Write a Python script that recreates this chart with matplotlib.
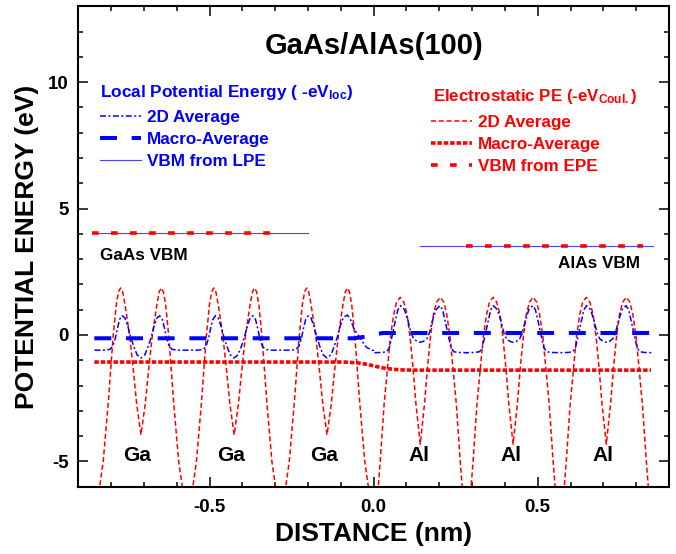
import numpy as np
import matplotlib.pyplot as plt
from matplotlib.ticker import MultipleLocator

plt.rcParams["font.family"] = ["Liberation Sans", "DejaVu Sans"]
plt.rcParams["font.weight"] = "bold"
plt.rcParams["mathtext.fontset"] = "custom"
plt.rcParams["mathtext.rm"] = "Liberation Sans:bold"
plt.rcParams["mathtext.it"] = "Liberation Sans:bold"
plt.rcParams["mathtext.bf"] = "Liberation Sans:bold"
plt.rcParams["axes.unicode_minus"] = False
plt.rcParams["lines.scale_dashes"] = False

# cation planes (nm); anions sit half way between them, interface at 0
ga_pos = [-0.709, -0.425, -0.142]
al_pos = [0.142, 0.425, 0.709]

# half-period profiles: distance from the cation plane (nm) -> energy (eV)
# electrostatic PE, 2D average
red_ga_d = [0.0, 0.013, 0.023, 0.034, 0.041, 0.049, 0.056, 0.062, 0.068, 0.075, 0.085, 0.100, 0.115, 0.127, 0.1417]
red_ga_v = [-3.95, -2.73, -1.41, -0.09, 0.55, 1.23, 1.72, 1.86, 1.72, 1.23, -0.09, -2.73, -5.0, -6.1, -9.0]
red_al_d = [0.0, 0.013, 0.022, 0.031, 0.040, 0.050, 0.061, 0.072, 0.081, 0.091, 0.110, 0.122, 0.1285, 0.1417]
red_al_v = [-4.32, -2.73, -1.30, -0.09, 0.80, 1.30, 1.49, 1.30, 0.80, -0.09, -2.73, -5.0, -6.1, -9.0]

# local PE, 2D average
blue_ga_d = [0.0, 0.012, 0.022, 0.031, 0.040, 0.049, 0.057, 0.065, 0.072, 0.078, 0.086, 0.095, 0.110, 0.1417]
blue_ga_v = [-0.91, -0.78, -0.45, -0.10, 0.35, 0.68, 0.76, 0.62, 0.25, -0.13, -0.45, -0.57, -0.60, -0.60]
blue_gi_d = [0.0, 0.012, 0.022, 0.031, 0.040, 0.050, 0.062, 0.072, 0.082, 0.099, 0.120, 0.1417]
blue_gi_v = [-0.91, -0.78, -0.45, -0.10, 0.35, 0.70, 0.79, 0.60, 0.25, -0.09, -0.49, -0.62]
blue_al_d = [0.0, 0.010, 0.020, 0.028, 0.038, 0.048, 0.060, 0.068, 0.076, 0.085, 0.094, 0.102, 0.115, 0.1417]
blue_al_v = [-0.29, -0.25, -0.15, 0.08, 0.60, 1.00, 1.16, 1.00, 0.55, 0.00, -0.50, -0.66, -0.69, -0.70]

# macroscopic averages
blue_macro_x = [-0.851, -0.06, -0.02, 0.01, 0.03, 0.851]
blue_macro_y = [-0.13, -0.13, -0.06, 0.04, 0.08, 0.08]
red_macro_x = [-0.851, -0.09, -0.05, -0.02, 0.01, 0.04, 0.08, 0.12, 0.845]
red_macro_y = [-1.07, -1.07, -1.10, -1.16, -1.25, -1.33, -1.38, -1.39, -1.39]

# valence band maxima
vbm_gaas, vbm_alas = 4.04, 3.53
lpe_gaas_x, epe_gaas_x = [-0.858, -0.201], [-0.858, -0.312]
lpe_alas_x, epe_alas_x = [0.141, 0.851], [0.280, 0.821]

ga_label_x = [-0.72, -0.435, -0.15]
al_label_x = [0.138, 0.419, 0.70]


def profile(centers, d_side, v_side, last=None):
    xs, ys = [], []
    for i, c in enumerate(centers):
        dr, vr = d_side, v_side
        if last is not None and i == len(centers) - 1:
            dr, vr = last
        xs += [c - t for t in d_side[::-1]] + [c + t for t in dr[1:]]
        ys += v_side[::-1] + vr[1:]
    return np.array(xs), np.array(ys)


red_x1, red_y1 = profile(ga_pos, red_ga_d, red_ga_v)
red_x2, red_y2 = profile(al_pos, red_al_d, red_al_v)
blue_x1, blue_y1 = profile(ga_pos, blue_ga_d, blue_ga_v, last=(blue_gi_d, blue_gi_v))
blue_x2, blue_y2 = profile(al_pos, blue_al_d, blue_al_v)
red_x = np.concatenate([red_x1, red_x2])
red_y = np.concatenate([red_y1, red_y2])
blue_x = np.concatenate([blue_x1, blue_x2])
blue_y = np.concatenate([blue_y1, blue_y2])

fig = plt.figure(figsize=(6.76, 5.54), dpi=100)
ax = fig.add_axes([0.1158, 0.1215, 0.8738, 0.8671])

blue = "#0000ff"
red = "#ff0000"

r2d, = ax.plot(red_x, red_y, color=red, lw=1.1, dashes=(3.6, 2.0))
b2d, = ax.plot(blue_x, blue_y, color=blue, lw=1.1, dashes=(4.3, 1.8, 1.4, 1.8))
bma, = ax.plot(blue_macro_x, blue_macro_y, color=blue, lw=2.9, dashes=(12.2, 10.6))
rma, = ax.plot(red_macro_x, red_macro_y, color=red, lw=2.6, dashes=(3.2, 1.4))

bvb, = ax.plot(lpe_gaas_x, [vbm_gaas] * 2, color="#4646ff", lw=0.8)
ax.plot(lpe_alas_x, [vbm_alas] * 2, color="#4646ff", lw=0.8)
rvb, = ax.plot(epe_gaas_x, [vbm_gaas] * 2, color=red, lw=2.6, dashes=(4.8, 8.9))
ax.plot(epe_alas_x, [vbm_alas] * 2, color=red, lw=2.6, dashes=(4.8, 8.9))

ax.text(0.0, 11.45, "GaAs/AlAs(100)", ha="center", va="center", fontsize=21, fontweight="bold")
ax.text(-0.833, 3.14, "GaAs VBM", ha="left", va="center", fontsize=12.3, fontweight="bold")
ax.text(0.813, 2.81, "AlAs VBM", ha="right", va="center", fontsize=12.3, fontweight="bold")
for x in ga_label_x:
    ax.text(x, -4.78, "Ga", ha="center", va="center", fontsize=15, fontweight="bold")
for x in al_label_x:
    ax.text(x, -4.78, "Al", ha="center", va="center", fontsize=15, fontweight="bold")

# legend headings
ax.text(-0.833, 9.43, "Local Potential Energy ( -eV$_{\\mathbf{loc}}$)", color=blue,
        ha="left", va="baseline", fontsize=12.4, fontweight="bold")
ax.text(0.181, 9.24, "Electrostatic PE (-eV$_{\\mathbf{Coul.}}$)", color=red,
        ha="left", va="baseline", fontsize=12.2, fontweight="bold")

leg_kw = dict(frameon=False, borderpad=0, borderaxespad=0, handlelength=2.4,
              handletextpad=0.35, labelspacing=0.4, fontsize=12.3, loc="upper left")
leg1 = ax.legend([b2d, bma, bvb], ["2D Average", "Macro-Average", "VBM from LPE"],
                 labelcolor=blue, bbox_to_anchor=(0.0367, 0.784), **leg_kw)
ax.add_artist(leg1)
leg2 = ax.legend([r2d, rma, rvb], ["2D Average", "Macro-Average", "VBM from EPE"],
                 labelcolor=red, bbox_to_anchor=(0.597, 0.774), **leg_kw)

ax.set_xlim(-0.9, 0.9)
ax.set_ylim(-6, 13)
ax.xaxis.set_major_locator(MultipleLocator(0.5))
ax.xaxis.set_minor_locator(MultipleLocator(0.1))
ax.yaxis.set_major_locator(MultipleLocator(5))
ax.yaxis.set_minor_locator(MultipleLocator(1))
ax.tick_params(which="both", direction="in", top=True, right=True, width=1.1)
ax.tick_params(which="major", length=7)
ax.tick_params(which="minor", length=3.5)
ax.tick_params(axis="x", pad=9, labelsize=13.5)
ax.tick_params(axis="y", pad=7, labelsize=13.5)
for lab in ax.get_xticklabels() + ax.get_yticklabels():
    lab.set_fontweight("bold")
for s in ax.spines.values():
    s.set_linewidth(1.5)

ax.set_xlabel("DISTANCE (nm)", fontsize=19, fontweight="bold", labelpad=4)
ax.set_ylabel("POTENTIAL ENERGY (eV)", fontsize=19, fontweight="bold", labelpad=6)

fig.savefig("out.png", dpi=100)
